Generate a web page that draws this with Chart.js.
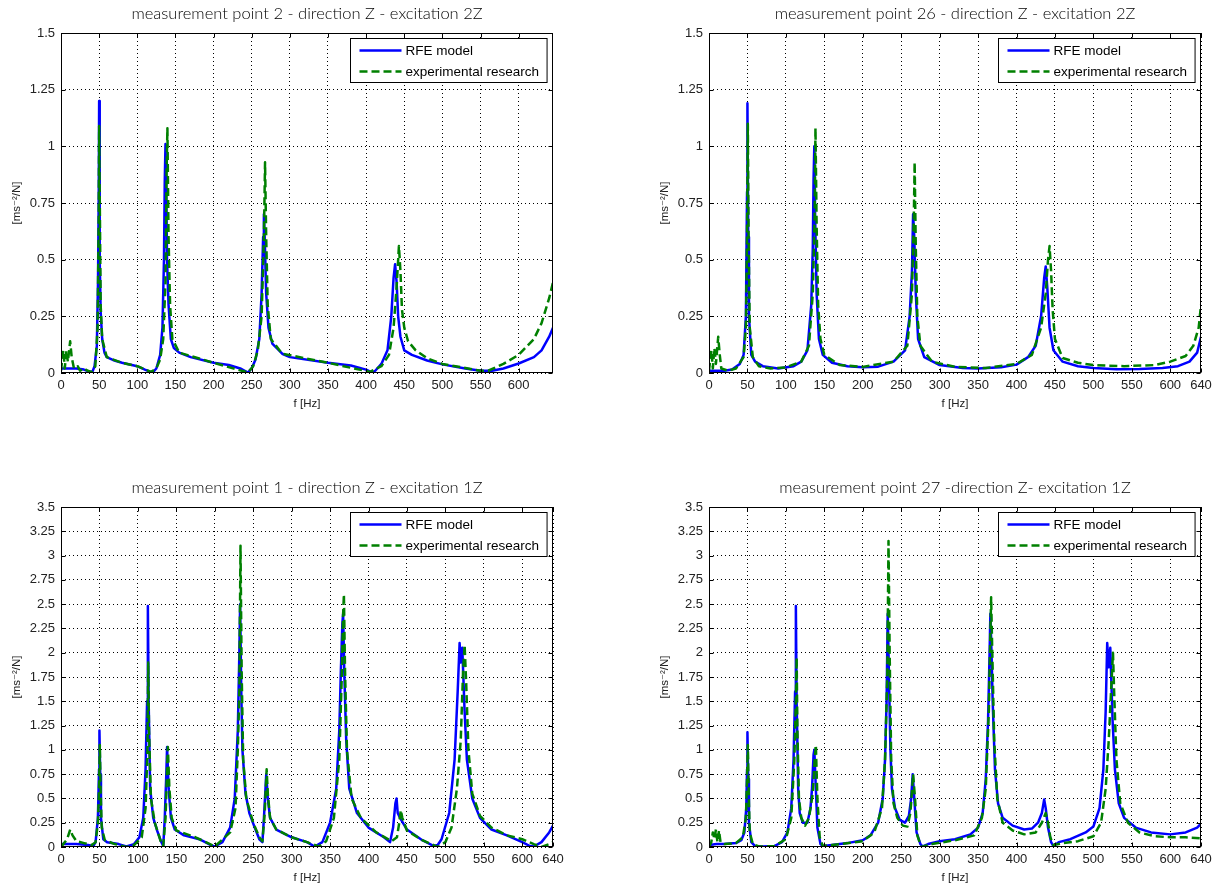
<!DOCTYPE html>
<html>
<head>
<meta charset="utf-8">
<script src="https://cdn.jsdelivr.net/npm/chart.js@4.4.0/dist/chart.umd.min.js"></script>
<style>
  html, body { margin: 0; padding: 0; background: #fff; overflow: hidden; }
  #fig { position: relative; width: 1223px; height: 889px; }
  canvas { position: absolute; }
</style>
</head>
<body>
<div id="fig">
  <canvas id="c1" width="575" height="415" style="left:0px;top:0px"></canvas>
  <canvas id="c2" width="575" height="415" style="left:648px;top:0px"></canvas>
  <canvas id="c3" width="575" height="415" style="left:0px;top:474px"></canvas>
  <canvas id="c4" width="575" height="415" style="left:648px;top:474px"></canvas>
</div>
<script>
// tick labels
const xTicks640 = [0, 50, 100, 150, 200, 250, 300, 350, 400, 450, 500, 550, 600, 640];
const xTicks645 = [0, 50, 100, 150, 200, 250, 300, 350, 400, 450, 500, 550, 600];
const yTicksTop = [0, 0.25, 0.5, 0.75, 1, 1.25, 1.5];
const yTicksBottom = [0, 0.25, 0.5, 0.75, 1, 1.25, 1.5, 1.75, 2, 2.25, 2.5, 2.75, 3, 3.25, 3.5];

const seriesNames = ['RFE model', 'experimental research'];

// point 2 - excitation 2Z
const p2ModelHz  = [0, 20, 30, 38, 41, 44, 47, 48.5, 49.5, 50, 50.5, 51, 52, 54, 57, 60, 70, 80, 100, 110, 118, 121, 125, 130, 133, 135, 136, 137, 138, 139, 141, 144, 148, 155, 170, 200, 220, 235, 245, 250, 255, 260, 263, 265, 266, 267, 269, 272, 277, 290, 300, 350, 380, 400, 408, 412, 420, 428, 433, 436, 438, 440, 442, 445, 450, 460, 480, 500, 530, 550, 565, 580, 600, 620, 630, 640, 645];
const p2ModelAmp = [0.02, 0.02, 0.015, 0.005, 0.004, 0.03, 0.12, 0.4, 0.8, 1.2, 0.77, 0.5, 0.27, 0.15, 0.09, 0.07, 0.055, 0.045, 0.03, 0.015, 0.004, 0.005, 0.02, 0.08, 0.2, 0.5, 0.84, 1.01, 0.8, 0.5, 0.3, 0.15, 0.11, 0.09, 0.07, 0.045, 0.035, 0.02, 0.002, 0.02, 0.06, 0.15, 0.35, 0.6, 0.7, 0.6, 0.35, 0.2, 0.13, 0.085, 0.07, 0.045, 0.033, 0.015, 0.002, 0.01, 0.04, 0.1, 0.25, 0.42, 0.48, 0.4, 0.25, 0.16, 0.1, 0.08, 0.055, 0.038, 0.02, 0.01, 0.01, 0.02, 0.042, 0.07, 0.1, 0.16, 0.2];
const p2ExpHz  = [0, 3, 5, 7, 9, 12, 14, 17, 22, 25, 30, 35, 40, 45, 48, 49.5, 50, 51, 52, 54, 60, 80, 100, 118, 125, 130, 134, 137, 138.5, 139.5, 141, 143, 146, 155, 200, 245, 252, 258, 263, 266, 267.5, 269, 271, 275, 290, 350, 405, 420, 430, 436, 440, 443, 445, 447, 450, 455, 465, 480, 500, 550, 560, 580, 600, 620, 630, 640, 645];
const p2ExpAmp = [0.01, 0.1, 0.02, 0.1, 0.05, 0.14, 0.07, 0.02, 0.03, 0.01, 0.02, 0.01, 0.005, 0.03, 0.2, 0.7, 1.09, 0.7, 0.3, 0.15, 0.07, 0.045, 0.03, 0.005, 0.02, 0.06, 0.15, 0.4, 0.9, 1.08, 0.6, 0.3, 0.15, 0.09, 0.045, 0.002, 0.03, 0.1, 0.25, 0.6, 0.93, 0.6, 0.3, 0.15, 0.085, 0.045, 0.005, 0.03, 0.08, 0.2, 0.38, 0.56, 0.45, 0.28, 0.2, 0.14, 0.1, 0.065, 0.04, 0.01, 0.01, 0.04, 0.08, 0.15, 0.22, 0.33, 0.4];

// point 26 - excitation 2Z
const p26ModelHz  = [0, 20, 30, 40, 45, 48, 49.5, 50, 51, 52, 55, 60, 70, 90, 110, 120, 128, 133, 135, 136, 137, 138, 140, 143, 148, 160, 180, 200, 220, 240, 255, 261, 264, 265.5, 267, 269, 272, 280, 300, 330, 350, 380, 400, 415, 425, 432, 436, 438, 440, 443, 448, 460, 480, 500, 530, 560, 590, 610, 625, 635, 640];
const p26ModelAmp = [0.01, 0.01, 0.015, 0.04, 0.08, 0.25, 0.8, 1.19, 0.6, 0.25, 0.08, 0.05, 0.03, 0.02, 0.03, 0.05, 0.1, 0.3, 0.55, 0.85, 1.0, 0.7, 0.35, 0.15, 0.08, 0.045, 0.03, 0.025, 0.028, 0.05, 0.1, 0.25, 0.45, 0.7, 0.6, 0.35, 0.15, 0.07, 0.035, 0.022, 0.02, 0.025, 0.037, 0.07, 0.12, 0.25, 0.42, 0.47, 0.38, 0.2, 0.1, 0.05, 0.03, 0.022, 0.017, 0.018, 0.022, 0.03, 0.05, 0.09, 0.16];
const p26ExpHz  = [0, 3, 5, 7, 9, 12, 14, 16, 25, 35, 45, 48, 49.5, 50.5, 51.5, 53, 57, 65, 80, 100, 120, 130, 135, 137.5, 138.5, 140, 142, 145, 150, 170, 200, 240, 258, 264, 266.5, 267.5, 269, 271, 275, 290, 320, 360, 400, 420, 432, 438, 441, 443, 445, 447, 450, 460, 480, 500, 540, 580, 600, 620, 630, 637, 640];
const p26ExpAmp = [0.01, 0.1, 0.02, 0.11, 0.04, 0.16, 0.08, 0.02, 0.01, 0.02, 0.07, 0.2, 0.6, 1.1, 0.6, 0.2, 0.07, 0.03, 0.02, 0.025, 0.05, 0.12, 0.35, 0.7, 1.08, 0.65, 0.3, 0.15, 0.08, 0.035, 0.027, 0.05, 0.12, 0.35, 0.7, 0.93, 0.55, 0.25, 0.12, 0.05, 0.027, 0.022, 0.04, 0.08, 0.2, 0.35, 0.5, 0.56, 0.45, 0.28, 0.15, 0.066, 0.045, 0.035, 0.03, 0.035, 0.05, 0.075, 0.12, 0.2, 0.3];

// point 1 - excitation 1Z
const p1ModelHz  = [0, 20, 35, 42, 45, 48, 49.5, 50, 51, 52, 55, 60, 75, 85, 95, 102, 107, 110, 112, 113, 114, 116, 120, 125, 130, 133, 135, 137, 138, 140, 143, 148, 160, 180, 195, 200, 210, 220, 226, 230, 232, 233, 234.5, 236, 240, 245, 252, 258, 262, 264, 266, 267, 269, 272, 280, 300, 320, 330, 340, 350, 358, 362, 364, 366, 367, 368.5, 371, 375, 385, 400, 420, 428, 432, 435, 436.5, 438, 441, 450, 470, 485, 490, 495, 505, 512, 516, 518.5, 520, 522, 525, 528, 535, 545, 560, 580, 600, 610, 615, 625, 635, 640];
const p1ModelAmp = [0.03, 0.03, 0.02, 0.01, 0.05, 0.3, 0.8, 1.2, 0.75, 0.3, 0.08, 0.05, 0.03, 0.005, 0.03, 0.1, 0.3, 0.8, 1.5, 2.48, 1.5, 0.6, 0.3, 0.17, 0.06, 0.01, 0.3, 0.75, 1.03, 0.6, 0.3, 0.18, 0.12, 0.08, 0.02, 0.005, 0.05, 0.2, 0.5, 1.2, 2.0, 2.5, 1.6, 1.0, 0.55, 0.35, 0.2, 0.08, 0.05, 0.3, 0.6, 0.75, 0.5, 0.3, 0.18, 0.1, 0.05, 0.005, 0.05, 0.25, 0.6, 1.2, 1.8, 2.3, 2.4, 1.8, 1.1, 0.6, 0.35, 0.2, 0.1, 0.05, 0.2, 0.45, 0.5, 0.35, 0.3, 0.18, 0.07, 0.01, 0.02, 0.08, 0.35, 0.9, 1.6, 2.1, 1.9, 2.05, 1.4, 0.9, 0.5, 0.3, 0.18, 0.12, 0.05, 0.01, 0.005, 0.05, 0.15, 0.22];
const p1ExpHz  = [0, 5, 8, 12, 15, 20, 30, 40, 45, 48, 49.5, 50.5, 51.5, 53, 57, 70, 85, 95, 105, 110, 112.5, 113.5, 114.5, 117, 122, 130, 133, 136, 138, 139, 141, 144, 150, 175, 200, 220, 227, 230, 232, 233.5, 235, 237, 241, 250, 258, 262, 265, 267.5, 269, 272, 280, 300, 320, 335, 345, 355, 362, 365, 367, 368, 369.5, 372, 378, 390, 410, 430, 437, 440, 442, 444, 450, 470, 490, 500, 508, 515, 520, 523, 525, 527, 530, 535, 545, 560, 580, 600, 615, 625, 635, 640];
const p1ExpAmp = [0.0, 0.05, 0.08, 0.18, 0.12, 0.06, 0.04, 0.02, 0.05, 0.25, 0.6, 1.05, 0.6, 0.2, 0.07, 0.03, 0.0, 0.02, 0.1, 0.4, 1.0, 1.9, 1.2, 0.5, 0.25, 0.05, 0.01, 0.3, 0.8, 1.03, 0.6, 0.3, 0.17, 0.1, 0.005, 0.15, 0.4, 1.0, 1.6, 3.1, 1.8, 0.9, 0.5, 0.25, 0.1, 0.06, 0.35, 0.8, 0.55, 0.3, 0.18, 0.1, 0.05, 0.005, 0.06, 0.3, 0.9, 1.7, 2.4, 2.6, 1.8, 1.0, 0.5, 0.3, 0.15, 0.06, 0.1, 0.25, 0.38, 0.3, 0.17, 0.07, 0.0, 0.05, 0.2, 0.6, 1.1, 1.8, 2.08, 1.7, 1.0, 0.55, 0.32, 0.2, 0.12, 0.08, 0.03, 0.0, 0.03, 0.05];

// point 27 - excitation 1Z
const p27ModelHz  = [0, 10, 20, 35, 42, 46, 48.5, 49.5, 50, 51, 52, 55, 60, 70, 85, 95, 102, 107, 110, 112, 113, 114, 116, 118, 122, 128, 132, 134, 136, 137, 138.5, 141, 145, 148, 160, 180, 200, 210, 220, 226, 229, 231, 232.5, 234, 236, 238, 242, 248, 255, 260, 263, 265, 267, 270, 275, 278, 285, 300, 320, 340, 350, 356, 360, 363, 365, 366, 367.5, 369, 372, 376, 382, 395, 410, 420, 428, 433, 436, 438, 441, 445, 448, 455, 470, 490, 500, 508, 513, 516, 518, 520, 522, 525, 528, 533, 540, 555, 575, 600, 620, 635, 640];
const p27ModelAmp = [0.02, 0.03, 0.03, 0.04, 0.07, 0.15, 0.4, 0.8, 1.18, 0.7, 0.25, 0.05, 0.01, 0.005, 0.01, 0.05, 0.15, 0.4, 0.9, 1.6, 2.48, 1.5, 0.6, 0.35, 0.25, 0.25, 0.4, 0.6, 0.95, 1.0, 0.7, 0.2, 0.03, 0.01, 0.02, 0.04, 0.07, 0.12, 0.25, 0.5, 0.9, 1.5, 2.4, 1.8, 1.0, 0.6, 0.4, 0.28, 0.25, 0.32, 0.5, 0.75, 0.5, 0.15, 0.03, 0.005, 0.03, 0.06, 0.08, 0.13, 0.2, 0.35, 0.7, 1.3, 2.0, 2.4, 2.0, 1.5, 0.8, 0.45, 0.3, 0.22, 0.18, 0.19, 0.25, 0.35, 0.49, 0.4, 0.2, 0.05, 0.01, 0.05, 0.08, 0.15, 0.21, 0.4, 0.8, 1.4, 2.1, 1.85, 2.05, 1.3, 0.8, 0.45, 0.3, 0.2, 0.15, 0.13, 0.15, 0.2, 0.24];
const p27ExpHz  = [0, 3, 5, 7, 9, 11, 13, 15, 20, 35, 44, 48, 49.5, 50.5, 51.5, 53, 57, 65, 85, 100, 107, 111, 113, 114, 115, 117, 120, 125, 130, 135, 137.5, 139, 141, 144, 148, 160, 200, 215, 225, 229, 232, 233.5, 235, 237, 240, 245, 252, 258, 262, 265.5, 268, 271, 276, 290, 320, 345, 355, 360, 364, 366, 367, 368.5, 371, 375, 382, 395, 410, 425, 433, 438, 441, 444, 448, 460, 480, 500, 510, 516, 520, 523, 525.5, 527, 530, 535, 545, 560, 580, 600, 620, 640];
const p27ExpAmp = [0.0, 0.05, 0.15, 0.08, 0.18, 0.05, 0.17, 0.05, 0.03, 0.04, 0.1, 0.3, 0.7, 1.05, 0.6, 0.15, 0.03, 0.005, 0.01, 0.08, 0.3, 0.9, 1.5, 1.95, 1.2, 0.5, 0.3, 0.22, 0.3, 0.55, 0.9, 1.05, 0.5, 0.1, 0.01, 0.02, 0.06, 0.15, 0.4, 0.9, 1.8, 3.15, 2.0, 0.9, 0.45, 0.3, 0.22, 0.21, 0.35, 0.75, 0.5, 0.12, 0.0, 0.03, 0.07, 0.12, 0.3, 0.6, 1.4, 2.2, 2.57, 2.0, 1.1, 0.5, 0.25, 0.17, 0.13, 0.15, 0.25, 0.35, 0.25, 0.1, 0.02, 0.04, 0.06, 0.11, 0.25, 0.6, 1.1, 1.6, 2.0, 1.6, 0.9, 0.45, 0.25, 0.15, 0.11, 0.1, 0.1, 0.09];

const pts = (hz, amp) => hz.map((f, i) => ({ x: f, y: amp[i] }));

const tickFont = { family: '"Liberation Sans", Arial, sans-serif', size: 13 };
const labelFont = { family: '"Liberation Sans", "DejaVu Sans", Arial, sans-serif', size: 11.5 };

// frame, inward ticks and legend like matlab
const matlabBox = {
  id: 'matlabBox',
  afterDraw(chart) {
    const { ctx, chartArea: a, scales } = chart;
    const L = Math.round(a.left) + 0.5, R = Math.round(a.right) - 0.5;
    const T = Math.round(a.top) + 0.5, B = Math.round(a.bottom) - 0.5;
    ctx.save();
    ctx.strokeStyle = '#000';
    ctx.lineWidth = 1;
    ctx.setLineDash([]);
    ctx.strokeRect(L, T, R - L, B - T);
    ctx.beginPath();
    scales.x.ticks.forEach(t => {
      const px = Math.round(scales.x.getPixelForValue(t.value)) + 0.5;
      ctx.moveTo(px, B); ctx.lineTo(px, B - 4);
      ctx.moveTo(px, T); ctx.lineTo(px, T + 4);
    });
    scales.y.ticks.forEach(t => {
      const py = Math.round(scales.y.getPixelForValue(t.value)) + 0.5;
      ctx.moveTo(L, py); ctx.lineTo(L + 4, py);
      ctx.moveTo(R, py); ctx.lineTo(R - 4, py);
    });
    ctx.stroke();

    // legend box
    ctx.font = '13.5px "Liberation Sans", Arial, sans-serif';
    const ds = chart.data.datasets;
    const textW = Math.max(...ds.map(d => ctx.measureText(d.label).width));
    const w = 9 + 42 + 4 + textW + 8, h = 44;
    const lx = Math.round(R - 6 - w) + 0.5, ly = T + 5;
    ctx.fillStyle = '#fff';
    ctx.fillRect(lx, ly, w, h);
    ctx.strokeStyle = '#000';
    ctx.strokeRect(lx, ly, w, h);
    ds.forEach((d, i) => {
      const cy = ly + 12 + i * 21;
      ctx.strokeStyle = d.borderColor;
      ctx.lineWidth = d.borderWidth;
      ctx.setLineDash(d.borderDash || []);
      ctx.beginPath();
      ctx.moveTo(lx + 9, cy); ctx.lineTo(lx + 51, cy);
      ctx.stroke();
      ctx.fillStyle = '#000';
      ctx.textBaseline = 'middle';
      ctx.fillText(d.label, lx + 55, cy + 1);
    });
    ctx.restore();
  }
};

function makePanel(id, title, model, exp, xMax, xTicks, yMax, yTicks) {
  new Chart(document.getElementById(id), {
    type: 'line',
    data: {
      datasets: [
        { label: seriesNames[0], data: model, borderColor: 'rgb(0,0,255)', borderWidth: 2.5, order: 1 },
        { label: seriesNames[1], data: exp, borderColor: 'rgb(0,128,0)', borderWidth: 2.5, borderDash: [8, 4], order: 0 }
      ]
    },
    options: {
      responsive: false,
      animation: false,
      events: [],
      layout: { padding: { left: 0, right: 22, top: 0, bottom: 0 } },
      elements: { point: { radius: 0 }, line: { tension: 0, borderJoinStyle: 'round' } },
      plugins: {
        legend: { display: false },
        tooltip: { enabled: false },
        title: {
          display: true,
          fullSize: false,
          text: title,
          color: '#000',
          font: { family: 'Lato, "Open Sans", sans-serif', size: 16.5, weight: 300, lineHeight: 1.2 },
          padding: { top: 4, bottom: 9.2 }
        }
      },
      scales: {
        x: {
          type: 'linear',
          min: 0,
          max: xMax,
          afterBuildTicks: s => { s.ticks = xTicks.map(v => ({ value: v })); },
          afterFit: s => { s.height = 42; },
          ticks: { color: '#222', font: tickFont, padding: 5, maxRotation: 0, callback: v => String(v) },
          grid: { color: '#000', lineWidth: 1, drawTicks: false },
          border: { display: false, dash: [1, 3] },
          title: { display: true, text: 'f [Hz]', color: '#222', font: labelFont, padding: { top: 0, bottom: 4 } }
        },
        y: {
          type: 'linear',
          min: 0,
          max: yMax,
          afterBuildTicks: s => { s.ticks = yTicks.map(v => ({ value: v })); },
          afterFit: s => { s.width = 61; },
          ticks: { color: '#222', font: tickFont, padding: 6, callback: v => String(v) },
          grid: { color: '#000', lineWidth: 1, drawTicks: false },
          border: { display: false, dash: [1, 3] },
          title: { display: true, text: '[ms\u207B\u00B2/N]', color: '#222', font: labelFont, padding: { top: 10, bottom: 0 } }
        }
      }
    },
    plugins: [matlabBox]
  });
}

makePanel('c1', 'measurement point 2 - direction Z - excitation 2Z',
  pts(p2ModelHz, p2ModelAmp), pts(p2ExpHz, p2ExpAmp), 645, xTicks645, 1.5, yTicksTop);
makePanel('c2', 'measurement point 26 - direction Z - excitation 2Z',
  pts(p26ModelHz, p26ModelAmp), pts(p26ExpHz, p26ExpAmp), 640, xTicks640, 1.5, yTicksTop);
makePanel('c3', 'measurement point 1 - direction Z - excitation 1Z',
  pts(p1ModelHz, p1ModelAmp), pts(p1ExpHz, p1ExpAmp), 640, xTicks640, 3.5, yTicksBottom);
makePanel('c4', 'measurement point 27 -direction Z- excitation 1Z',
  pts(p27ModelHz, p27ModelAmp), pts(p27ExpHz, p27ExpAmp), 640, xTicks640, 3.5, yTicksBottom);
</script>
</body>
</html>
